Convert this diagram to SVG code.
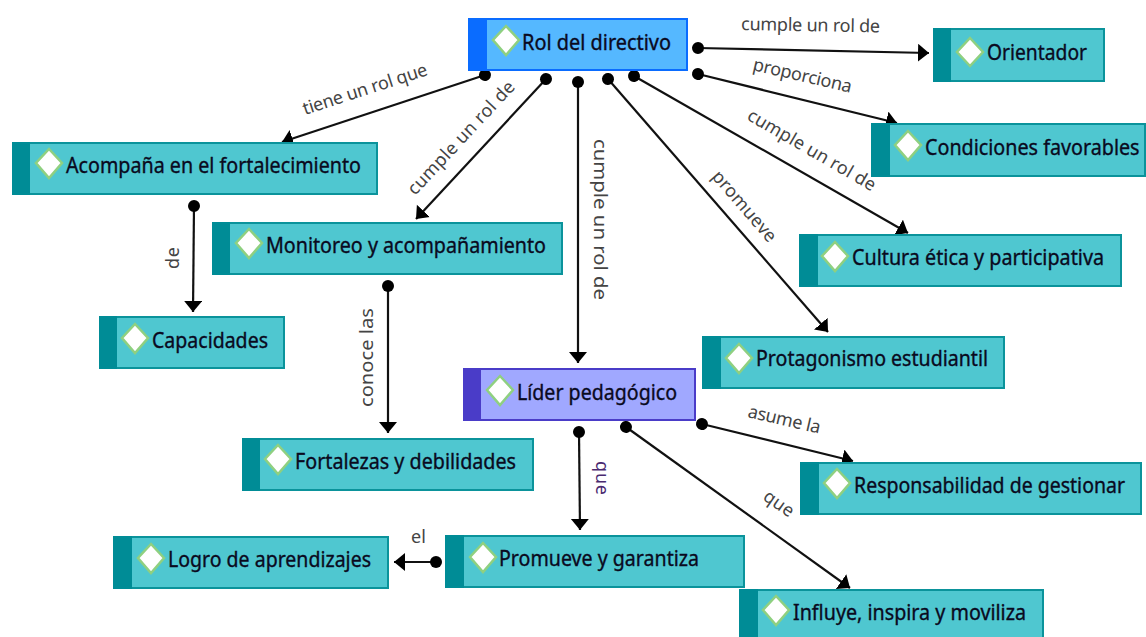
<svg xmlns="http://www.w3.org/2000/svg" width="1146" height="637" viewBox="0 0 1146 637">
<style>
.b{fill:#4fc7d0;stroke:#0b939b;stroke-width:2}
.s{fill:#008c96}
.bb{fill:#55b8ff;stroke:#0a6cff;stroke-width:2}
.sb{fill:#0a6cff}
.bp{fill:#a0a8ff;stroke:#4a3cc8;stroke-width:2}
.sp{fill:#4a3cc8}
.d{fill:#fff;stroke:#8fd080;stroke-width:2.5}
.t{font-family:"Noto Sans","Open Sans",sans-serif;font-size:21px;fill:#0a0a1e;stroke:#0a0a1e;stroke-width:.35}
.l{font-family:"Noto Sans","Open Sans",sans-serif;font-size:18px;fill:#444}
.c{stroke:#111;stroke-width:2.2;fill:none;marker-start:url(#dot);marker-end:url(#arr)}
</style>
<defs>
<marker id="dot" markerUnits="userSpaceOnUse" markerWidth="14" markerHeight="14" refX="7" refY="7" orient="auto"><circle cx="7" cy="7" r="6" fill="#000"/></marker>
<marker id="arr" markerUnits="userSpaceOnUse" markerWidth="18" markerHeight="20" refX="11" refY="9" orient="auto"><path d="M0 0L11 9L0 18Z" fill="#000"/></marker>
</defs>
<g id="connectors">
<path class="c" d="M698 48L929 53"/>
<path class="c" d="M698 74L897 123"/>
<path class="c" d="M634 76L908 233"/>
<path class="c" d="M608 79L828 332"/>
<path class="c" d="M578 82L578 363"/>
<path class="c" d="M546 79L416 219"/>
<path class="c" d="M485 75L282 142"/>
<path class="c" d="M194 206L193 312"/>
<path class="c" d="M388 286L388 433"/>
<path class="c" d="M702 424L853 461"/>
<path class="c" d="M626 427L850 588"/>
<path class="c" d="M579 432L580 530"/>
<path class="c" d="M436 562L394 562"/>
</g>
<g id="labels">
<text class="l" x="741" y="30" textLength="139" transform="rotate(1 741 30)">cumple un rol de</text>
<text class="l" x="752" y="70" textLength="101" transform="rotate(13 752 70)">proporciona</text>
<text class="l" x="746" y="119" textLength="145" transform="rotate(30 746 119)">cumple un rol de</text>
<text class="l" x="711" y="177" textLength="88" transform="rotate(49 711 177)">promueve</text>
<text class="l" x="594" y="139" textLength="161" lengthAdjust="spacingAndGlyphs" transform="rotate(90 594 139)">cumple un rol de</text>
<text class="l" x="415" y="196" textLength="148" transform="rotate(-47 415 196)">cumple un rol de</text>
<text class="l" x="305" y="115" textLength="130" transform="rotate(-18 305 115)">tiene un rol que</text>
<text class="l" x="179" y="269" textLength="22" transform="rotate(-90 179 269)">de</text>
<text class="l" x="373" y="407" textLength="99" lengthAdjust="spacingAndGlyphs" transform="rotate(-90 373 407)">conoce las</text>
<text class="l" x="747" y="417" textLength="74" transform="rotate(13 747 417)">asume la</text>
<text class="l" x="762" y="499" textLength="33" transform="rotate(35 762 499)">que</text>
<text class="l" x="596" y="461" textLength="34" transform="rotate(90 596 461)" style="fill:#4a2a70">que</text>
<text class="l" x="411" y="543">el</text>
</g>
<g id="n1"><rect class="bb" x="469" y="19" width="218" height="51"/><rect class="sb" x="468" y="18" width="19" height="53"/><path class="d" d="M506 26L519 40L506 55L493 40Z"/><text class="t" x="522" y="50" textLength="149" lengthAdjust="spacingAndGlyphs">Rol del directivo</text></g>
<g id="n2"><rect class="b" x="934" y="29" width="170" height="52"/><rect class="s" x="933" y="28" width="18" height="54"/><path class="d" d="M970 38L983 52L970 66L957 52Z"/><text class="t" x="987" y="60" textLength="100" lengthAdjust="spacingAndGlyphs">Orientador</text></g>
<g id="n3"><rect class="b" x="872" y="124" width="273" height="52"/><rect class="s" x="871" y="123" width="19" height="54"/><path class="d" d="M908 131L921 145L908 160L895 145Z"/><text class="t" transform="translate(925 155) scale(.94 1)">Condiciones favorables</text></g>
<g id="n4"><rect class="b" x="800" y="235" width="321" height="51"/><rect class="s" x="799" y="234" width="19" height="53"/><path class="d" d="M835 242L848 256L835 271L822 256Z"/><text class="t" x="852" y="265" textLength="252" lengthAdjust="spacingAndGlyphs">Cultura ética y participativa</text></g>
<g id="n5"><rect class="b" x="703" y="337" width="301" height="51"/><rect class="s" x="702" y="336" width="19" height="53"/><path class="d" d="M739 344L752 358L739 373L726 358Z"/><text class="t" x="756" y="366" textLength="232" lengthAdjust="spacingAndGlyphs">Protagonismo estudiantil</text></g>
<g id="n6"><rect class="b" x="801" y="463" width="340" height="51"/><rect class="s" x="800" y="462" width="19" height="53"/><path class="d" d="M837 469L850 483L837 498L824 483Z"/><text class="t" x="854" y="493" textLength="271" lengthAdjust="spacingAndGlyphs">Responsabilidad de gestionar</text></g>
<g id="n7"><rect class="b" x="740" y="590" width="303" height="52"/><rect class="s" x="739" y="589" width="19" height="54"/><path class="d" d="M776 596L789 610L776 625L763 610Z"/><text class="t" x="793" y="620" textLength="233" lengthAdjust="spacingAndGlyphs">Influye, inspira y moviliza</text></g>
<g id="n8"><rect class="bp" x="464" y="369" width="231" height="51"/><rect class="sp" x="463" y="368" width="18" height="53"/><path class="d" d="M500 376L513 390L500 405L487 390Z"/><text class="t" x="517" y="400" textLength="160" lengthAdjust="spacingAndGlyphs">Líder pedagógico</text></g>
<g id="n9"><rect class="b" x="446" y="536" width="298" height="51"/><rect class="s" x="445" y="535" width="19" height="53"/><path class="d" d="M483 543L496 557L483 572L470 557Z"/><text class="t" x="499" y="566" textLength="200" lengthAdjust="spacingAndGlyphs">Promueve y garantiza</text></g>
<g id="n10"><rect class="b" x="114" y="537" width="274" height="51"/><rect class="s" x="113" y="536" width="19" height="53"/><path class="d" d="M151 544L164 558L151 573L138 558Z"/><text class="t" x="168" y="567" textLength="203" lengthAdjust="spacingAndGlyphs">Logro de aprendizajes</text></g>
<g id="n11"><rect class="b" x="243" y="439" width="290" height="51"/><rect class="s" x="242" y="438" width="18" height="53"/><path class="d" d="M278 445L291 459L278 474L265 459Z"/><text class="t" x="295" y="469" textLength="221" lengthAdjust="spacingAndGlyphs">Fortalezas y debilidades</text></g>
<g id="n12"><rect class="b" x="213" y="223" width="349" height="51"/><rect class="s" x="212" y="222" width="18" height="53"/><path class="d" d="M249 229L262 243L249 258L236 243Z"/><text class="t" x="266" y="253" textLength="280" lengthAdjust="spacingAndGlyphs">Monitoreo y acompañamiento</text></g>
<g id="n13"><rect class="b" x="100" y="317" width="184" height="51"/><rect class="s" x="99" y="316" width="18" height="53"/><path class="d" d="M135 324L148 338L135 353L122 338Z"/><text class="t" x="152" y="348" textLength="116" lengthAdjust="spacingAndGlyphs">Capacidades</text></g>
<g id="n14"><rect class="b" x="13" y="143" width="364" height="51"/><rect class="s" x="12" y="142" width="18" height="53"/><path class="d" d="M49 149L62 163L49 178L36 163Z"/><text class="t" x="66" y="173" textLength="295" lengthAdjust="spacingAndGlyphs">Acompaña en el fortalecimiento</text></g>
</svg>
